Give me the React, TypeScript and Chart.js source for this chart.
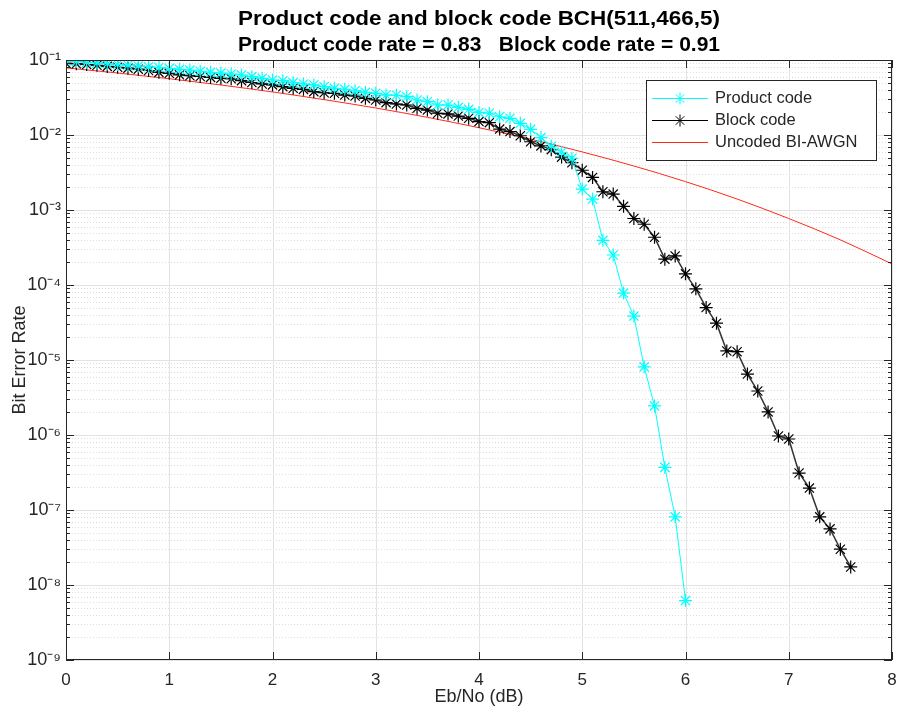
import React, { useEffect, useRef } from "react";
import { Chart, registerables } from "chart.js";

Chart.register(...registerables);

const TITLE_LINES = [
  "Product code and block code BCH(511,466,5)",
  "Product code rate = 0.83   Block code rate = 0.91",
];
const X_TITLE = "Eb/No (dB)";
const Y_TITLE = "Bit Error Rate";

const xTickValues = [0, 1, 2, 3, 4, 5, 6, 7, 8];
const xTickLabels = ["0", "1", "2", "3", "4", "5", "6", "7", "8"];
const yTickValues = [1e-9, 1e-8, 1e-7, 1e-6, 1e-5, 1e-4, 1e-3, 1e-2, 1e-1];
const yTickLabels = ["10⁻⁹", "10⁻⁸", "10⁻⁷", "10⁻⁶", "10⁻⁵", "10⁻⁴", "10⁻³", "10⁻²", "10⁻¹"];
const yMinorMultipliers = [2, 3, 4, 5, 6, 7, 8, 9];

const legendLabels = ["Product code", "Block code", "Uncoded BI-AWGN"];

// Product code
const ebnoProduct = [
  0.0, 0.1, 0.2, 0.3, 0.4, 0.5, 0.6, 0.7, 0.8, 0.9,
  1.0, 1.1, 1.2, 1.3, 1.4, 1.5, 1.6, 1.7, 1.8, 1.9,
  2.0, 2.1, 2.2, 2.3, 2.4, 2.5, 2.6, 2.7, 2.8, 2.9,
  3.0, 3.1, 3.2, 3.3, 3.4, 3.5, 3.6, 3.7, 3.8, 3.9,
  4.0, 4.1, 4.2, 4.3, 4.4, 4.5, 4.6, 4.7, 4.8, 4.9,
  5.0, 5.1, 5.2, 5.3, 5.4, 5.5, 5.6, 5.7, 5.8, 5.9,
  6.0,
];
const berProduct = [
  0.097, 0.0955, 0.0933, 0.0912, 0.0891, 0.0871, 0.0851, 0.0832, 0.0813, 0.0794,
  0.0775, 0.075, 0.0733, 0.0708, 0.0684, 0.0668, 0.065, 0.0631, 0.06, 0.057,
  0.0541, 0.053, 0.0499, 0.0479, 0.0465, 0.0441, 0.0419, 0.0406, 0.039, 0.0371,
  0.036, 0.0341, 0.0339, 0.0324, 0.0293, 0.0278, 0.0251, 0.0251, 0.0234, 0.022,
  0.02, 0.0195, 0.0175, 0.0167, 0.0143, 0.0119, 0.00923, 0.00708, 0.00589, 0.0049,
  0.0019, 0.0014, 3.94e-4, 2.51e-4, 7.8e-5, 3.85e-5, 8.1e-6, 2.44e-6, 3.7e-7, 8.1e-8,
  6.2e-9,
];

// Block code
const ebnoBlock = [
  0.0, 0.1, 0.2, 0.3, 0.4, 0.5, 0.6, 0.7, 0.8, 0.9,
  1.0, 1.1, 1.2, 1.3, 1.4, 1.5, 1.6, 1.7, 1.8, 1.9,
  2.0, 2.1, 2.2, 2.3, 2.4, 2.5, 2.6, 2.7, 2.8, 2.9,
  3.0, 3.1, 3.2, 3.3, 3.4, 3.5, 3.6, 3.7, 3.8, 3.9,
  4.0, 4.1, 4.2, 4.3, 4.4, 4.5, 4.6, 4.7, 4.8, 4.9,
  5.0, 5.1, 5.2, 5.3, 5.4, 5.5, 5.6, 5.7, 5.8, 5.9,
  6.0, 6.1, 6.2, 6.3, 6.4, 6.5, 6.6, 6.7, 6.8, 6.9,
  7.0, 7.1, 7.2, 7.3, 7.4, 7.5, 7.6,
];
const berBlock = [
  0.0904, 0.0891, 0.0871, 0.0851, 0.0822, 0.08, 0.0778, 0.0755, 0.0724, 0.0684,
  0.0664, 0.0634, 0.0617, 0.0603, 0.0586, 0.057, 0.0562, 0.053, 0.0501, 0.0479,
  0.0465, 0.0441, 0.0419, 0.0406, 0.0378, 0.0366, 0.036, 0.0341, 0.0331, 0.0308,
  0.0293, 0.027, 0.0259, 0.0251, 0.0227, 0.0215, 0.0195, 0.0191, 0.0179, 0.0167,
  0.0151, 0.0146, 0.012, 0.0111, 0.00977, 0.00813, 0.00716, 0.00638, 0.00507, 0.00427,
  0.00339, 0.00272, 0.00175, 0.00163, 0.00112, 7.7e-4, 6.46e-4, 4.33e-4, 2.21e-4, 2.44e-4,
  1.41e-4, 8.9e-5, 5.0e-5, 3.1e-5, 1.32e-5, 1.29e-5, 6.5e-6, 3.86e-6, 2.03e-6, 9.7e-7,
  8.85e-7, 3.11e-7, 1.96e-7, 8.1e-8, 5.6e-8, 3.0e-8, 1.74e-8,
];

// Uncoded BI-AWGN
const ebnoUncoded = [0, 0.5, 1, 1.5, 2, 2.5, 3, 3.5, 4, 4.5, 5, 5.5, 6, 6.5, 7, 7.5, 8];
const berUncoded = [
  0.0786, 0.0671, 0.0563, 0.0464, 0.0375, 0.0296, 0.0229, 0.0172, 0.0125,
  0.0088, 0.00595, 0.00386, 0.00239, 0.0014, 7.7e-4, 4.0e-4, 1.91e-4,
];

const COLOR_PRODUCT = "#00ffff";
const COLOR_BLOCK = "#000000";
const COLOR_UNCODED = "#ff2a1a";
const FONT = "'Liberation Sans', Arial, Helvetica, sans-serif";

function toXY(xs: number[], ys: number[]) {
  return xs.map((x, i) => ({ x, y: ys[i] }));
}

function drawStar(ctx: CanvasRenderingContext2D, x: number, y: number, r: number) {
  ctx.beginPath();
  ctx.moveTo(x - r, y);
  ctx.lineTo(x + r, y);
  ctx.moveTo(x, y - r);
  ctx.lineTo(x, y + r);
  const d = r * Math.SQRT1_2;
  ctx.moveTo(x - d, y - d);
  ctx.lineTo(x + d, y + d);
  ctx.moveTo(x - d, y + d);
  ctx.lineTo(x + d, y - d);
  ctx.stroke();
}

const matlabPlugin = {
  id: "matlabDecor",
  beforeDraw(chart: any) {
    const { ctx } = chart;
    ctx.save();
    ctx.fillStyle = "#ffffff";
    ctx.fillRect(0, 0, chart.width, chart.height);
    ctx.restore();
  },
  beforeDatasetsDraw(chart: any) {
    const { ctx, chartArea: a, scales } = chart;
    const xs = scales.x;
    const ys = scales.y;
    ctx.save();
    // minor y grid (dotted)
    ctx.strokeStyle = "#dedede";
    ctx.lineWidth = 1;
    ctx.setLineDash([1, 2]);
    for (let i = 0; i < yTickValues.length - 1; i++) {
      for (const m of yMinorMultipliers) {
        const py = Math.round(ys.getPixelForValue(yTickValues[i] * m)) + 0.5;
        ctx.beginPath();
        ctx.moveTo(a.left, py);
        ctx.lineTo(a.right, py);
        ctx.stroke();
      }
    }
    ctx.setLineDash([]);
    // major grid
    ctx.strokeStyle = "#e3e3e3";
    for (const v of yTickValues) {
      const py = Math.round(ys.getPixelForValue(v)) + 0.5;
      ctx.beginPath();
      ctx.moveTo(a.left, py);
      ctx.lineTo(a.right, py);
      ctx.stroke();
    }
    for (const v of xTickValues) {
      const px = Math.round(xs.getPixelForValue(v)) + 0.5;
      ctx.beginPath();
      ctx.moveTo(px, a.top);
      ctx.lineTo(px, a.bottom);
      ctx.stroke();
    }
    ctx.restore();
  },
  afterDatasetsDraw(chart: any) {
    const { ctx, chartArea: a, scales } = chart;
    const xs = scales.x;
    const ys = scales.y;
    ctx.save();
    // box
    ctx.strokeStyle = "#262626";
    ctx.lineWidth = 1;
    ctx.strokeRect(Math.round(a.left) + 0.5, Math.round(a.top) + 0.5, Math.round(a.right - a.left) - 1, Math.round(a.bottom - a.top) - 1);
    // tick marks
    ctx.beginPath();
    for (const v of xTickValues) {
      const px = Math.round(xs.getPixelForValue(v)) + 0.5;
      ctx.moveTo(px, a.bottom);
      ctx.lineTo(px, a.bottom - 8);
      ctx.moveTo(px, a.top);
      ctx.lineTo(px, a.top + 8);
    }
    for (const v of yTickValues) {
      const py = Math.round(ys.getPixelForValue(v)) + 0.5;
      ctx.moveTo(a.left, py);
      ctx.lineTo(a.left + 8, py);
      ctx.moveTo(a.right, py);
      ctx.lineTo(a.right - 8, py);
    }
    for (let i = 0; i < yTickValues.length - 1; i++) {
      for (const m of yMinorMultipliers) {
        const py = Math.round(ys.getPixelForValue(yTickValues[i] * m)) + 0.5;
        ctx.moveTo(a.left, py);
        ctx.lineTo(a.left + 4, py);
        ctx.moveTo(a.right, py);
        ctx.lineTo(a.right - 4, py);
      }
    }
    ctx.stroke();

    // legend
    const lx = 646, ly = 80, lw = 230, lh = 80;
    ctx.fillStyle = "#ffffff";
    ctx.fillRect(lx, ly, lw, lh);
    ctx.strokeStyle = "#262626";
    ctx.strokeRect(lx + 0.5, ly + 0.5, lw, lh);
    const rows = [
      { color: COLOR_PRODUCT, marker: true, width: 1 },
      { color: COLOR_BLOCK, marker: true, width: 1 },
      { color: COLOR_UNCODED, marker: false, width: 1 },
    ];
    ctx.font = `16.5px ${FONT}`;
    ctx.textBaseline = "middle";
    ctx.textAlign = "left";
    rows.forEach((r, i) => {
      const y = ly + 18 + i * 22 + 0.5;
      ctx.strokeStyle = r.color;
      ctx.lineWidth = r.width;
      ctx.beginPath();
      ctx.moveTo(lx + 6, y);
      ctx.lineTo(lx + 62, y);
      ctx.stroke();
      if (r.marker) drawStar(ctx, lx + 34, y, 6);
      ctx.fillStyle = "#262626";
      ctx.fillText(legendLabels[i], lx + 69, y);
    });

    // titles
    const cx = (a.left + a.right) / 2;
    ctx.fillStyle = "#000000";
    ctx.textAlign = "center";
    ctx.textBaseline = "middle";
    ctx.font = `bold 21px ${FONT}`;
    ctx.save();
    ctx.translate(cx, 19);
    ctx.scale(1.07, 1);
    ctx.fillText(TITLE_LINES[0], 0, 0);
    ctx.restore();
    ctx.fillText(TITLE_LINES[1], cx, 45);

    ctx.fillStyle = "#262626";
    ctx.font = `18px ${FONT}`;
    ctx.fillText(X_TITLE, cx, 697);
    ctx.save();
    ctx.translate(20, (a.top + a.bottom) / 2);
    ctx.rotate(-Math.PI / 2);
    ctx.fillText(Y_TITLE, 0, 0);
    ctx.restore();
    ctx.restore();
  },
};

export default function App() {
  const ref = useRef<HTMLCanvasElement | null>(null);

  useEffect(() => {
    document.body.style.margin = "0";
    const canvas = ref.current;
    if (!canvas) return;
    const chart = new Chart(canvas, {
      type: "line",
      data: {
        datasets: [
          {
            label: legendLabels[0],
            data: toXY(ebnoProduct, berProduct),
            borderColor: COLOR_PRODUCT,
            backgroundColor: COLOR_PRODUCT,
            borderWidth: 1,
            pointStyle: "star",
            pointRadius: 6.5,
            pointBorderColor: COLOR_PRODUCT,
            pointBorderWidth: 1.2,
            fill: false,
          },
          {
            label: legendLabels[1],
            data: toXY(ebnoBlock, berBlock),
            borderColor: "#333333",
            backgroundColor: COLOR_BLOCK,
            borderWidth: 1.5,
            pointStyle: "star",
            pointRadius: 6.5,
            pointBorderColor: COLOR_BLOCK,
            pointBorderWidth: 1.2,
            fill: false,
          },
          {
            label: legendLabels[2],
            data: toXY(ebnoUncoded, berUncoded),
            borderColor: COLOR_UNCODED,
            borderWidth: 1,
            pointRadius: 0,
            cubicInterpolationMode: "monotone",
            fill: false,
          },
        ],
      },
      options: {
        animation: false,
        responsive: false,
        devicePixelRatio: 1,
        layout: { autoPadding: false, padding: { left: 8, right: 6, top: 60, bottom: 8 } },
        plugins: {
          legend: { display: false },
          title: { display: false },
          tooltip: { enabled: false },
        },
        scales: {
          x: {
            type: "linear",
            min: 0,
            max: 8,
            grid: { display: false, drawTicks: false },
            border: { display: false },
            afterBuildTicks: (s: any) => {
              s.ticks = xTickValues.map((v) => ({ value: v }));
            },
            afterFit: (s: any) => {
              s.height = 40;
              s.paddingLeft = 0;
              s.paddingRight = 0;
            },
            ticks: {
              padding: 10,
              color: "#262626",
              font: { family: FONT, size: 17 },
              maxRotation: 0,
              callback: (_v: any, i: number) => xTickLabels[i],
            },
          },
          y: {
            type: "logarithmic",
            min: 1e-9,
            max: 1e-1,
            grid: { display: false, drawTicks: false },
            border: { display: false },
            afterBuildTicks: (s: any) => {
              s.ticks = yTickValues.map((v) => ({ value: v, major: true }));
            },
            afterFit: (s: any) => {
              s.width = 58;
              s.paddingTop = 0;
              s.paddingBottom = 0;
            },
            ticks: {
              padding: 5,
              color: "#262626",
              font: { family: FONT, size: 18 },
              autoSkip: false,
              callback: (_v: any, i: number) => yTickLabels[i],
            },
          },
        },
      },
      plugins: [matlabPlugin],
    } as any);
    return () => chart.destroy();
  }, []);

  return (
    <div style={{ width: 898, height: 708, position: "relative" }}>
      <canvas ref={ref} width={898} height={708} style={{ width: 898, height: 708, display: "block" }} />
    </div>
  );
}
